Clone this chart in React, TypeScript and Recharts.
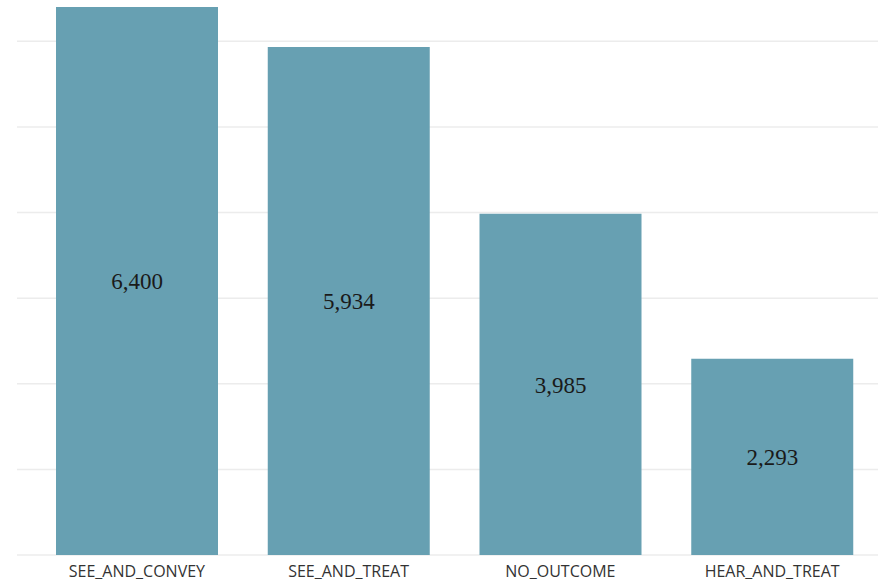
import React from "react";
import { BarChart, Bar, XAxis, YAxis, CartesianGrid, LabelList } from "recharts";

const categories = ["SEE_AND_CONVEY", "SEE_AND_TREAT", "NO_OUTCOME", "HEAR_AND_TREAT"];
const counts = [6400, 5934, 3985, 2293];
const yTicks = [0, 1000, 2000, 3000, 4000, 5000, 6000];

const data = categories.map((name, i) => ({ name, value: counts[i] }));

const fmt = (v: any) => Number(v).toLocaleString("en-US");

export default function App() {
  return (
    <div style={{ position: "absolute", left: 0, top: 0, background: "#fff" }}>
      <BarChart
        width={894}
        height={583}
        data={data}
        margin={{ top: 7, right: 16, bottom: 0, left: 17 }}
        barSize={162}
      >
        <CartesianGrid vertical={false} stroke="#ececec" strokeWidth={1.5} horizontalValues={yTicks} />
        <YAxis hide domain={[0, 6400]} ticks={yTicks} />
        <XAxis
          dataKey="name"
          axisLine={false}
          tickLine={false}
          height={28}
          interval={0}
          padding={{ left: 14, right: 0 }}
          tick={{ fill: "#333", fontSize: 16, fontFamily: "'Open Sans', sans-serif" }}
          tickMargin={5}
        />
        <Bar dataKey="value" fill="#67a0b2" isAnimationActive={false}>
          <LabelList
            dataKey="value"
            position="center"
            formatter={fmt}
            style={{ fill: "#1a1a1a", fontSize: 23, fontFamily: "'Liberation Serif', serif" }}
          />
        </Bar>
      </BarChart>
    </div>
  );
}
